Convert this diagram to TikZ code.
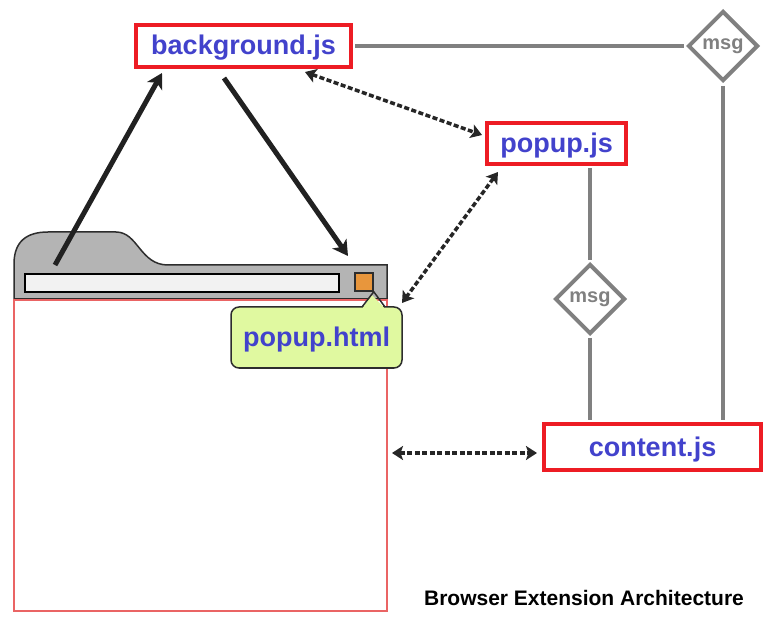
\documentclass[tikz,border=0pt]{standalone}
\usepackage{fontspec}
\setmainfont{Liberation Sans}
\usetikzlibrary{arrows.meta,shapes.geometric,calc}
\definecolor{boxred}{RGB}{237,28,36}
\definecolor{txtblue}{RGB}{66,66,204}
\definecolor{lgray}{RGB}{128,128,128}
\definecolor{tabgray}{RGB}{180,180,180}
\definecolor{barwhite}{RGB}{242,242,242}
\definecolor{orangesq}{RGB}{232,150,60}
\definecolor{calloutgreen}{RGB}{224,249,160}
\definecolor{pagered}{RGB}{234,100,100}
\definecolor{outline}{RGB}{45,45,45}
\tikzset{
  filebox/.style={draw=boxred, line width=4pt, text=txtblue, font=\fontsize{27}{32}\selectfont\bfseries, inner sep=0pt, text height=20pt, text depth=2pt},
  msgdia/.style={diamond, draw=lgray, line width=4pt, text=lgray, font=\fontsize{20}{24}\selectfont\bfseries, inner sep=0pt, minimum width=70pt, minimum height=70pt, fill=white},
  grayline/.style={draw=lgray, line width=4pt},
  bigarrow/.style={draw=black!87, line width=5pt, -{Stealth[length=15pt,width=17pt,inset=4pt]}},
  dasharrow/.style={draw=black!85, line width=3.5pt, dash pattern=on 5pt off 2.5pt, {Stealth[length=11pt,width=14pt,inset=2.5pt]}-{Stealth[length=11pt,width=14pt,inset=2.5pt]}},
  calloutbox/.style={draw=outline, line width=1.5pt, fill=calloutgreen, rounded corners=8pt, text=txtblue, font=\fontsize{27}{32}\selectfont\bfseries, inner sep=0pt, text height=21pt, text depth=2pt},
  chrome/.style={draw=outline, line width=1.5pt}
}
\begin{document}
\begin{tikzpicture}[x=1pt,y=-1pt]
\useasboundingbox[fill=white] (0,0) rectangle (782,628);

% browser window
\draw[chrome, fill=tabgray] (14,299) -- (14,264) .. controls (14,242) and (26,232) .. (48,232) -- (116,232) .. controls (138,232) and (140,265) .. (168,265) -- (387,265) -- (387,299) -- cycle;
\draw[draw=black, line width=2pt, fill=barwhite] (25,274) rectangle (339,292);
\node[chrome, fill=orangesq, minimum width=18pt, minimum height=18pt, inner sep=0pt] (btn) at (364,282) {};
\draw[draw=pagered, line width=2pt] (14,300) rectangle (387,611);

% popup.html callout
\node[calloutbox, minimum width=171pt, minimum height=61pt] (ph) at (316.5,337.5) {popup.html};
\fill[calloutgreen] (362,308.6) -- (372,295) -- (385,308.6) -- cycle;
\draw[chrome, line join=round] (362,307) -- (btn.south east) -- (385,307);

% file boxes
\node[filebox, minimum width=215pt, minimum height=42pt] (bg) at (243.5,46) {background.js};
\node[filebox, minimum width=139pt, minimum height=41pt] (pj) at (556.5,143.5) {popup.js};
\node[filebox, minimum width=217pt, minimum height=46pt] (cj) at (652.5,447) {content.js\hspace{12pt}};

% msg diamonds
\node[msgdia] (m1) at (723,46) {msg};
\node[msgdia] (m2) at (590,299) {msg};

% gray message lines
\draw[grayline, shorten <=2pt, shorten >=2pt] (bg.east) -- (m1.west);
\draw[grayline, shorten <=3pt, shorten >=2pt] (m1.south) -- (m1.south |- cj.north);
\draw[grayline, shorten <=2pt, shorten >=2pt] (m2.north |- pj.south) -- (m2.north);
\draw[grayline, shorten <=2pt, shorten >=2pt] (m2.south) -- (m2.south |- cj.north);

% free ends
\coordinate (tabstart) at (55,265);
\coordinate (btnarrow) at (348,256);
\coordinate (phend) at (402,303);
\coordinate (pageend) at (392,453);

% black arrows
\draw[bigarrow] (tabstart) -- ([xshift=28pt,yshift=-4pt]bg.south west);
\draw[bigarrow] ([xshift=90pt,yshift=-9pt]bg.south west) -- (btnarrow);

% dashed two-way arrows
\draw[dasharrow] ([xshift=-48pt,yshift=-3pt]bg.south east) -- ([xshift=-3pt,yshift=8.5pt]pj.west);
\draw[dasharrow] ([xshift=13pt,yshift=-6pt]pj.south west) -- (phend);
\draw[dasharrow] (pageend) -- ([xshift=-5pt,yshift=-6pt]cj.west);

% caption
\node[anchor=base, font=\fontsize{21}{25}\selectfont\bfseries] (cap) at (584,605) {Browser Extension Architecture};
\end{tikzpicture}
\end{document}
